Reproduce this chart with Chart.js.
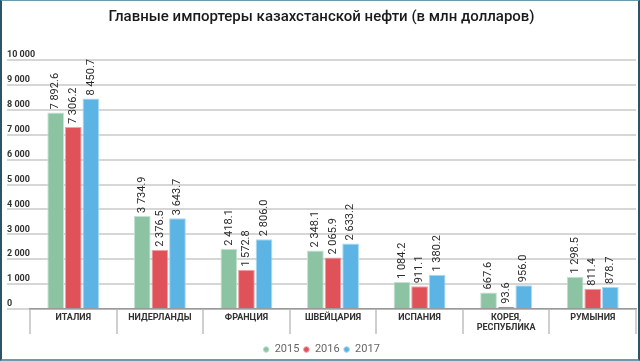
<!DOCTYPE html>
<html>
<head>
<meta charset="utf-8">
<script src="https://cdn.jsdelivr.net/npm/chart.js@4"></script>
<style>
  html, body { margin: 0; padding: 0; background: #fff; }
  #frame {
    width: 640px; height: 361px; box-sizing: border-box;
    border-left: 2px solid #2a5468; border-right: 2px solid #2a5468;
    border-top: 1px solid #6b9aab; border-bottom: 2px solid #6b9aab;
    position: relative;
  }
  #chart { display: block; }
</style>
</head>
<body>
<div id="frame"><canvas id="chart" width="636" height="358"></canvas></div>
<script>
const countries = ['ИТАЛИЯ', 'НИДЕРЛАНДЫ', 'ФРАНЦИЯ', 'ШВЕЙЦАРИЯ', 'ИСПАНИЯ', ['КОРЕЯ,', 'РЕСПУБЛИКА'], 'РУМЫНИЯ'];
const years = ['2015', '2016', '2017'];
const values2015 = [7892.6, 3734.9, 2418.1, 2348.1, 1084.2, 667.6, 1298.5];
const values2016 = [7306.2, 2376.5, 1572.8, 2065.9, 911.1, 93.6, 811.4];
const values2017 = [8450.7, 3643.7, 2806.0, 2633.2, 1380.2, 956.0, 878.7];

const fills = ['#8bc3a3', '#e0525a', '#5cb4e5'];
const edges = ['#c4e2d1', '#f2a3a6', '#a9d9f3'];

// thousands with a space, like "7 892.6"
function fmt(v, dec) {
    const s = v.toFixed(dec);
    const parts = s.split('.');
    parts[0] = parts[0].replace(/\B(?=(\d{3})+(?!\d))/g, ' ');
    return parts.join('.');
}

// rotated value labels on top of the bars
const valueLabels = {
    id: 'valueLabels',
    afterDatasetsDraw(chart) {
        const { ctx } = chart;
        ctx.save();
        ctx.font = '11px Roboto';
        ctx.fillStyle = '#2a2a2a';
        ctx.textAlign = 'left';
        ctx.textBaseline = 'middle';
        chart.data.datasets.forEach((ds, i) => {
            chart.getDatasetMeta(i).data.forEach((bar, j) => {
                ctx.save();
                ctx.translate(bar.x, bar.y - 3);
                ctx.rotate(-Math.PI / 2);
                ctx.fillText(fmt(ds.data[j], 1), 0, 0);
                ctx.restore();
            });
        });
        ctx.restore();
    }
};

const ctx = document.getElementById('chart').getContext('2d');
new Chart(ctx, {
    type: 'bar',
    data: {
        labels: countries,
        datasets: [values2015, values2016, values2017].map((vals, i) => ({
            label: years[i],
            data: vals,
            backgroundColor: fills[i],
            borderColor: edges[i],
            borderWidth: 1,
            barPercentage: 0.95,
            categoryPercentage: 0.61,
        })),
    },
    options: {
        responsive: false,
        animation: false,
        layout: { padding: { left: 5, right: 2, top: 0, bottom: -6 } },
        plugins: {
            title: {
                display: true,
                text: 'Главные импортеры казахстанской нефти (в млн долларов)',
                color: '#1a1a1a',
                font: { family: 'Roboto', size: 15, weight: '500' },
                padding: { top: 7, bottom: 34 },
            },
            legend: {
                position: 'bottom',
                labels: {
                    usePointStyle: true,
                    pointStyle: 'circle',
                    boxWidth: 6,
                    boxHeight: 4,
                    padding: 4,
                    color: '#666',
                    font: { family: 'Roboto', size: 11 },
                },
            },
            tooltip: { enabled: false },
        },
        scales: {
            x: {
                afterFit(scale) { scale.height = 31; },
                grid: {
                    offset: true,
                    drawOnChartArea: false,
                    drawTicks: true,
                    tickLength: 25,
                    color: '#cfcfcf',
                    lineWidth: 2,
                },
                border: { display: true, color: '#9a9a9a', width: 1.5 },
                ticks: {
                    padding: -22,
                    maxRotation: 0,
                    autoSkip: false,
                    color: '#333',
                    font: { family: 'Roboto', size: 9, weight: 'bold' },
                },
            },
            y: {
                min: 0,
                max: 10000,
                afterFit(scale) { scale.width = 23; },
                grid: {
                    color: '#d6d6d6',
                    lineWidth: 2,
                    drawTicks: true,
                    tickLength: 23,
                },
                border: { display: false },
                ticks: {
                    stepSize: 1000,
                    mirror: true,
                    padding: -23,
                    labelOffset: -5,
                    color: '#333',
                    font: { family: 'Roboto', size: 9, weight: 'bold' },
                    callback: (v) => fmt(v, 0),
                },
            },
        },
    },
    plugins: [valueLabels],
});
</script>
</body>
</html>
